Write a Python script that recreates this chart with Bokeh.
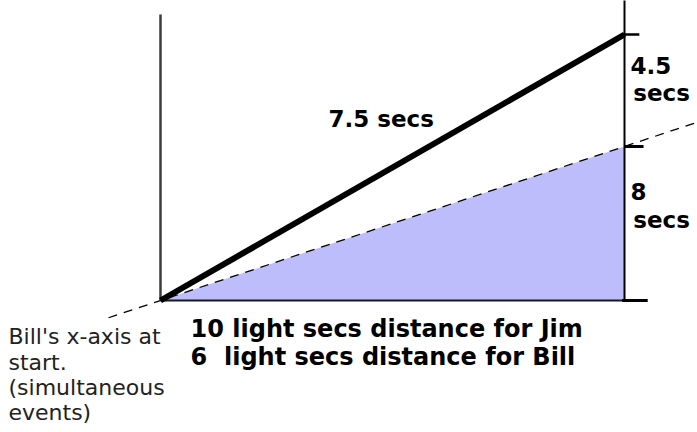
from bokeh.plotting import figure
from bokeh.models import Range1d
from bokeh.core.properties import value
from bokeh.embed import file_html
from bokeh.resources import INLINE

# ---- diagram values (light secs horizontally, secs vertically; schematic) ----
jim_dist = [0, 10]          # Jim's distance travelled (light secs)
jim_time = [0, 12.5]        # 8 + 4.5 secs in Bill's frame (schematic height)
far_x = 10                  # position of the far event
bill_axis_t = 7.24          # where Bill's x-axis (simultaneity line) meets far_x (drawn height)
axis_top = 13.44            # top of the left time axis
right_top = 14.2            # top of the right vertical line

labels_big = ["7.5 secs", "4.5", "secs", "8", "secs"]
labels_bottom = ["10 light secs distance for Jim", "6\u00a0\u00a0light secs distance for Bill"]
labels_small = ["Bill's x-axis at", "start.", "(simultaneous", "events)"]

W, H = 697, 432
p = figure(width=W, height=H, output_backend="svg", toolbar_location=None,
           x_range=Range1d(-3.4483, 11.5733), y_range=Range1d(-6.2030, 14.0977),
           min_border=0, min_border_left=0, min_border_right=0,
           min_border_top=0, min_border_bottom=0)
p.axis.visible = False
p.xgrid.visible = False
p.ygrid.visible = False
p.outline_line_color = None
p.background_fill_color = "white"
p.border_fill_color = "white"

# shaded region under Bill's x-axis
p.patch(x=[0, far_x, far_x], y=[0, 0, bill_axis_t], fill_color="#bdbdfb",
        line_color=None)

# Bill's x-axis (dashed simultaneity line)
slope = bill_axis_t / far_x
bx = [-1.12, 12.0]
p.line(x=bx, y=[slope * v for v in bx], line_color="black", line_width=1.3,
       line_dash="9 7")

# left time axis
p.line(x=[0, 0], y=[0, axis_top], line_color="#3c3c3c", line_width=2.5)
# right vertical line
p.line(x=[far_x, far_x], y=[0, right_top], line_color="black", line_width=2)
# bottom line
p.line(x=[0, far_x], y=[0, 0], line_color="#1a1a1a", line_width=2)

# ticks at the right
p.line(x=[far_x - 0.04, far_x + 0.32], y=[jim_time[1]] * 2, line_color="black", line_width=2.5)
p.line(x=[far_x, far_x + 0.41], y=[bill_axis_t] * 2, line_color="black", line_width=3)
p.line(x=[far_x - 0.05, far_x + 0.5], y=[0, 0], line_color="black", line_width=3)

# Jim's worldline
p.line(x=jim_dist, y=jim_time, line_color="black", line_width=6, line_cap="butt")

# texts
dy = 0.4
big_x = [3.62, 10.13, 10.19, 10.13, 10.19]
big_y = [v + dy for v in [8.13, 10.62, 9.35, 4.70, 3.38]]
p.text(x=big_x, y=big_y, text=labels_big, text_font=value("DejaVu Sans"),
       text_font_size="23px", text_font_style="bold", text_color="black",
       text_baseline="alphabetic", text_align="left")

p.text(x=[0.647, 0.647], y=[v + dy for v in [-1.74, -3.05]], text=labels_bottom,
       text_font=value("DejaVu Sans"), text_font_size="24px",
       text_font_style="bold", text_color="black",
       text_baseline="alphabetic", text_align="left")

small_x = [-3.276] * 4
small_y = [v + dy for v in [-2.11, -3.30, -4.49, -5.68]]
p.text(x=small_x, y=small_y, text=labels_small, text_font=value("DejaVu Sans"),
       text_font_size="22px", text_color="#222222",
       text_baseline="alphabetic", text_align="left")

open("out.html", "w").write(file_html(p, INLINE))
